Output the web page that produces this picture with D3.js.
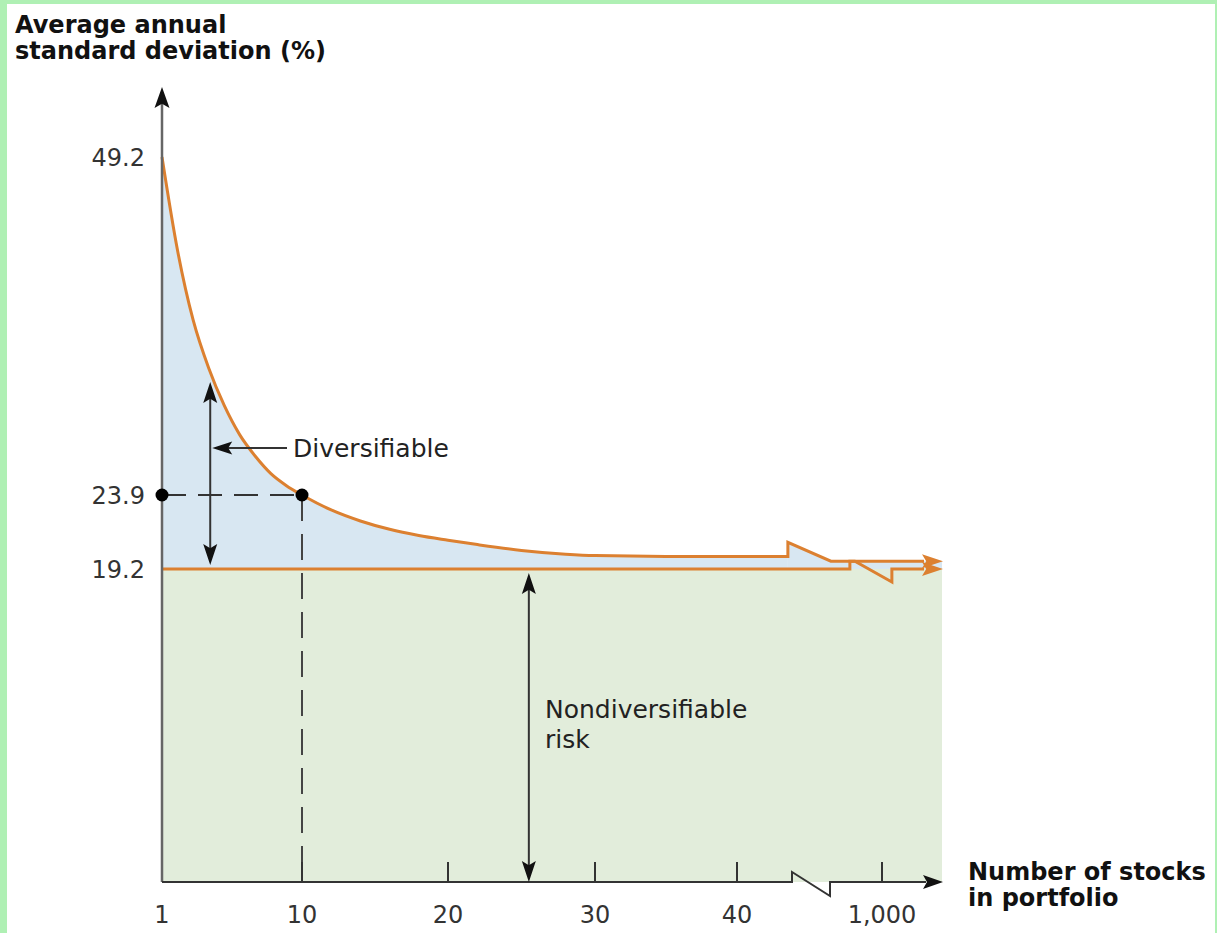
<!DOCTYPE html>
<html>
<head>
<meta charset="utf-8">
<script src="https://cdn.jsdelivr.net/npm/d3@7"></script>
<style>
  html, body { margin: 0; padding: 0; background: #ffffff; }
  svg { display: block; }
</style>
</head>
<body>
<svg id="chart" width="1217" height="933"></svg>
<script>
// ---------------- DATA ----------------
const stocks = [1, 2, 3, 4, 5, 6, 7, 8, 9, 10, 12, 14, 16, 18, 20, 22, 25, 28, 30, 35, 40, 43.7];
const stdDev = [49.2, 42.2, 37.0, 33.4, 30.6, 28.4, 26.8, 25.5, 24.6, 23.9, 22.95, 22.25, 21.72, 21.33, 21.03, 20.75, 20.38, 20.14, 20.05, 20.0, 20.0, 20.0];
const tailStdDev = 19.7;          // curve level after the axis break (approaching 1,000 stocks)
const marketRisk = 19.2;          // nondiversifiable level
const highlightStocks = 10;
const highlightStdDev = 23.9;
const yTicks = [49.2, 23.9, 19.2];
const yTickLabels = ["49.2", "23.9", "19.2"];
const xTicks = [1, 10, 20, 30, 40, 1000];
const xTickLabels = ["1", "10", "20", "30", "40", "1,000"];
const xTickMarks = [10, 20, 30, 40, 1000];
const breakAt = 43.7;
const titleLines = ["Average annual", "standard deviation (%)"];
const xTitleLines = ["Number of stocks", "in portfolio"];
const labelDiv = "Diversifiable";
const labelNonDiv = ["Nondiversifiable", "risk"];

// ---------------- LAYOUT ----------------
const W = 1217, H = 933;
const orange = "#dc8030";
const blueFill = "#d8e7f2";
const greenFill = "#e2eddb";
const ink = "#222";
const regularFont = "'DejaVu Sans', sans-serif";

const svg = d3.select("#chart");

// piecewise (not-to-scale) axes as in the original figure
const y = d3.scaleLinear().domain([0, 19.2, 23.9, 49.2]).range([882, 569, 495, 157]);
const x = d3.scaleLinear().domain([1, 10, 20, 30, 40, 44, 1000]).range([162, 302, 448, 595, 737, 792, 882]);
const plotRight = x(1000) + 60;   // end of shaded area / arrow tips
const x0 = x(1), yBase = y(0);

// page frame (green border)
svg.append("rect").attr("x", 0).attr("y", 0).attr("width", W).attr("height", H).attr("fill", "#aff0b4");
svg.append("rect").attr("x", 7).attr("y", 4).attr("width", W - 7 - 2).attr("height", H - 4).attr("fill", "#ffffff");

// green region (nondiversifiable)
svg.append("rect")
  .attr("x", x0).attr("y", y(marketRisk))
  .attr("width", plotRight - x0).attr("height", yBase - y(marketRisk))
  .attr("fill", greenFill);

// blue region (diversifiable)
const pts = stocks.map((s, i) => [s, stdDev[i]]);
const area = d3.area().x(d => x(d[0])).y0(y(marketRisk)).y1(d => y(d[1])).curve(d3.curveMonotoneX);
svg.append("path").datum(pts).attr("d", area).attr("fill", blueFill);
const xb = x(breakAt);
const yr = y(marketRisk);
const yt = y(tailStdDev);
const yLast = y(stdDev[stdDev.length - 1]);
svg.append("path")
  .attr("d", `M${xb},${yLast - 14}L${xb + 43},${yt}H${plotRight}V${yr}H${xb}Z`)
  .attr("fill", blueFill);

// arrow head helper
function arrowHead(tipX, tipY, dir, len, half, color) {
  let p;
  if (dir === "up") p = [[tipX, tipY], [tipX - half, tipY + len], [tipX, tipY + len * 0.8], [tipX + half, tipY + len]];
  if (dir === "down") p = [[tipX, tipY], [tipX - half, tipY - len], [tipX, tipY - len * 0.8], [tipX + half, tipY - len]];
  if (dir === "right") p = [[tipX, tipY], [tipX - len, tipY - half], [tipX - len * 0.8, tipY], [tipX - len, tipY + half]];
  if (dir === "left") p = [[tipX, tipY], [tipX + len, tipY - half], [tipX + len * 0.8, tipY], [tipX + len, tipY + half]];
  svg.append("path").attr("d", "M" + p.map(q => q.join(",")).join("L") + "Z").attr("fill", color);
}

// dashed guides to the 10-stock point
svg.append("line")
  .attr("x1", x0).attr("x2", x(highlightStocks))
  .attr("y1", y(highlightStdDev)).attr("y2", y(highlightStdDev))
  .attr("stroke", "#333").attr("stroke-width", 2).attr("stroke-dasharray", "24,12");
svg.append("line")
  .attr("x1", x(highlightStocks)).attr("x2", x(highlightStocks))
  .attr("y1", y(highlightStdDev)).attr("y2", yBase)
  .attr("stroke", "#444").attr("stroke-width", 2).attr("stroke-dasharray", "26,13");

// 19.2 line with break
svg.append("path")
  .attr("d", `M${x0},${yr}H${xb + 62}V${yt}H${xb + 67}L${xb + 104},${yr + 13}V${yr}H${plotRight - 18}`)
  .attr("fill", "none").attr("stroke", orange).attr("stroke-width", 3);
arrowHead(plotRight + 1, yr, "right", 21, 7, orange);

// diversification curve with break
const line = d3.line().x(d => x(d[0])).y(d => y(d[1])).curve(d3.curveMonotoneX);
svg.append("path")
  .attr("d", line(pts) + `V${yLast - 14}L${xb + 43},${yt}H${plotRight - 18}`)
  .attr("fill", "none").attr("stroke", orange).attr("stroke-width", 3).attr("stroke-linejoin", "miter");
arrowHead(plotRight + 1, yt, "right", 21, 7, orange);

// y axis
svg.append("line").attr("x1", x0).attr("x2", x0).attr("y1", yBase).attr("y2", 100)
  .attr("stroke", "#666").attr("stroke-width", 2.5);
arrowHead(x0, 87, "up", 21, 7.5, "#111");

// x axis with break
const xa = x(44);
svg.append("path")
  .attr("d", `M${x0},${yBase}H${xa}V${yBase - 10}L${xa + 38},${yBase + 14}V${yBase}H${plotRight - 16}`)
  .attr("fill", "none").attr("stroke", "#333").attr("stroke-width", 2);
arrowHead(plotRight + 1, yBase, "right", 20, 7, "#111");

// x tick marks + labels
svg.selectAll(".xtick").data(xTickMarks).enter().append("line")
  .attr("x1", d => x(d)).attr("x2", d => x(d))
  .attr("y1", yBase).attr("y2", yBase - 20)
  .attr("stroke", "#333").attr("stroke-width", 2);
svg.selectAll(".xlab").data(xTicks).enter().append("text")
  .attr("x", d => x(d)).attr("y", 923)
  .attr("text-anchor", "middle")
  .attr("font-family", regularFont).attr("font-size", 24).attr("fill", "#333")
  .text((d, i) => xTickLabels[i]);

// y tick labels
svg.selectAll(".ylab").data(yTicks).enter().append("text")
  .attr("x", 145).attr("y", d => y(d))
  .attr("dy", "0.36em")
  .attr("text-anchor", "end")
  .attr("font-family", regularFont).attr("font-size", 24).attr("fill", "#333")
  .text((d, i) => yTickLabels[i]);

// highlight dots
svg.selectAll(".dot").data([[1, highlightStdDev], [highlightStocks, highlightStdDev]]).enter().append("circle")
  .attr("cx", d => x(d[0])).attr("cy", d => y(d[1])).attr("r", 6.5).attr("fill", "#000");

// diversifiable double arrow
const dvx = x(4.1);
svg.append("line").attr("x1", dvx).attr("x2", dvx).attr("y1", 395).attr("y2", y(marketRisk) - 15)
  .attr("stroke", "#333").attr("stroke-width", 2);
arrowHead(dvx, 382, "up", 21, 7, "#111");
arrowHead(dvx, y(marketRisk) - 4, "down", 21, 7, "#111");
// pointer to diversifiable arrow
svg.append("line").attr("x1", dvx + 14).attr("x2", 287).attr("y1", 448).attr("y2", 448)
  .attr("stroke", "#333").attr("stroke-width", 2);
arrowHead(dvx + 2, 448, "left", 20, 6.5, "#111");
svg.append("text").attr("x", 293).attr("y", 457)
  .attr("font-family", regularFont).attr("font-size", 25).attr("fill", ink)
  .text(labelDiv);

// nondiversifiable double arrow
const ndx = x(25.5);
svg.append("line").attr("x1", ndx).attr("x2", ndx).attr("y1", y(marketRisk) + 14).attr("y2", yBase - 12)
  .attr("stroke", "#333").attr("stroke-width", 2);
arrowHead(ndx, y(marketRisk) + 4, "up", 21, 7, "#111");
arrowHead(ndx, yBase, "down", 21, 7, "#111");
svg.append("text").attr("font-family", regularFont).attr("font-size", 25).attr("fill", ink)
  .selectAll("tspan").data(labelNonDiv).enter().append("tspan")
  .attr("x", 545).attr("y", (d, i) => 718 + i * 30).text(d => d);

// titles
svg.append("text").attr("font-family", "'DejaVu Sans', sans-serif").attr("font-weight", "bold")
  .attr("font-size", 24).attr("fill", "#111")
  .selectAll("tspan").data(titleLines).enter().append("tspan")
  .attr("x", 15).attr("y", (d, i) => 33 + i * 26).text(d => d);
svg.append("text").attr("font-family", "'DejaVu Sans', sans-serif").attr("font-weight", "bold")
  .attr("font-size", 24).attr("fill", "#111")
  .selectAll("tspan").data(xTitleLines).enter().append("tspan")
  .attr("x", 968).attr("y", (d, i) => 880 + i * 26).text(d => d);
</script>
</body>
</html>
